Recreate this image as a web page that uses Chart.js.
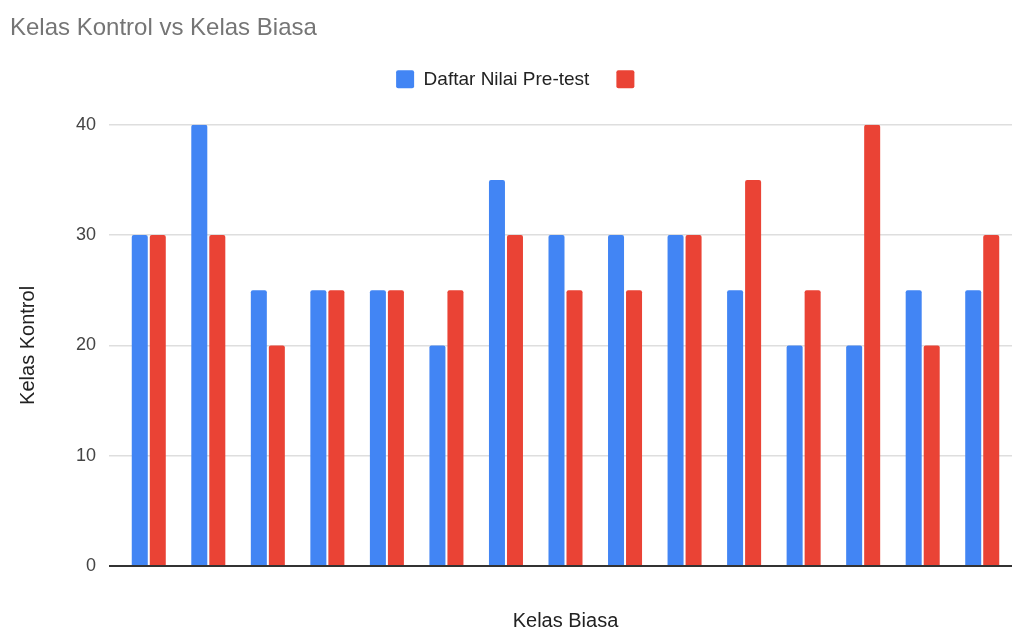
<!DOCTYPE html>
<html>
<head>
<meta charset="utf-8">
<script src="https://cdn.jsdelivr.net/npm/chart.js@4"></script>
<style>
html,body{margin:0;padding:0;background:#fff;}
#wrap{width:1018px;height:633px;}
</style>
</head>
<body>
<div id="wrap"><canvas id="kelasChart" width="1018" height="633"></canvas></div>
<script>
// data
const groups = ['1','2','3','4','5','6','7','8','9','10','11','12','13','14','15'];
const preTest = [30,40,25,25,25,20,35,30,30,30,25,20,20,25,25];
const kelasBiasa = [30,30,20,25,25,25,30,25,25,30,35,25,40,20,30];
const yTicks = [0,10,20,30,40];

const FONT = '"Liberation Sans", Arial, sans-serif';

// push the plot down below the legend, nudge title + legend right
const legendGap = {
  id:'legendGap',
  beforeInit(chart){
    const fit = chart.legend.fit;
    chart.legend.fit = function(){
      fit.bind(chart.legend)();
      this.height += 26;
    };
  },
  afterLayout(chart){
    chart.titleBlock.left += 10;
    chart.titleBlock.right += 10;
    chart.legend.left += 14;
    chart.legend.right += 14;
  }
};

const ctx = document.getElementById('kelasChart').getContext('2d');
new Chart(ctx, {
  type:'bar',
  data:{
    labels:groups,
    datasets:[
      {label:'Daftar Nilai Pre-test', data:preTest, backgroundColor:'#4285F4', borderWidth:0, borderRadius:2, categoryPercentage:0.605, barPercentage:0.889},
      {label:'', data:kelasBiasa, backgroundColor:'#EA4335', borderWidth:0, borderRadius:2, categoryPercentage:0.605, barPercentage:0.889}
    ]
  },
  options:{
    responsive:false,
    animation:false,
    layout:{padding:{left:0,right:6,top:0,bottom:0}},
    plugins:{
      tooltip:{enabled:false},
      title:{
        display:true, text:'Kelas Kontrol vs Kelas Biasa', align:'start',
        color:'#757575', font:{family:FONT,size:24,weight:'normal'},
        padding:{top:14,bottom:0}
      },
      legend:{
        display:true, position:'top', align:'center',
        labels:{
          color:'#222', font:{family:FONT,size:19},
          boxWidth:18, boxHeight:18, padding:27,
          useBorderRadius:true, borderRadius:2
        }
      }
    },
    scales:{
      x:{
        ticks:{display:false},
        grid:{display:false, drawTicks:false},
        border:{display:false},
        title:{display:true, text:'Kelas Biasa', color:'#222', font:{family:FONT,size:20}, padding:{top:43,bottom:0}}
      },
      y:{
        min:0, max:40,
        afterFit: s => { s.width = 119; },
        afterBuildTicks: s => { s.ticks = yTicks.map(v => ({value:v})); },
        ticks:{color:'#444', font:{family:FONT,size:18}, padding:13},
        grid:{
          color: c => c.tick && c.tick.value === 0 ? '#333' : '#dedede',
          lineWidth: c => c.tick && c.tick.value === 0 ? 2 : 1.5,
          drawTicks:true, tickLength:10
        },
        border:{display:false},
        title:{display:true, text:'Kelas Kontrol', color:'#222', font:{family:FONT,size:20}, padding:{top:16,bottom:0}}
      }
    }
  },
  plugins:[legendGap]
});
</script>
</body>
</html>
